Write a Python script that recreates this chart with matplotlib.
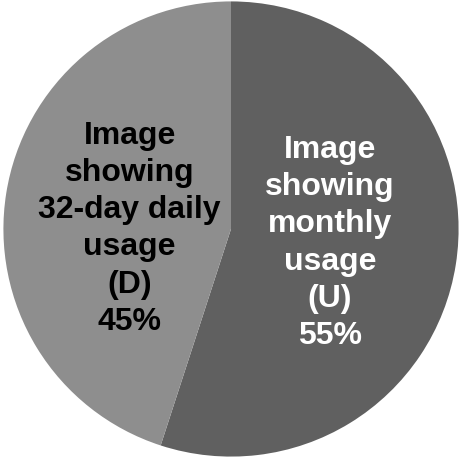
import matplotlib.pyplot as plt

labels = ["Image\nshowing\nmonthly\nusage\n(U)\n55%",
          "Image\nshowing\n32-day daily\nusage\n(D)\n45%"]
shares = [55, 45]
colors = ["#606060", "#8e8e8e"]
text_colors = ["white", "black"]
label_pos = [(0.435, -0.057), (-0.445, 0.005)]

fig = plt.figure(figsize=(4.62, 4.60), dpi=100)
ax = fig.add_axes([0, 0, 1, 1])

wedges, texts = ax.pie(shares, labels=labels, colors=colors, startangle=90,
                       counterclock=False, radius=1.0,
                       wedgeprops={"linewidth": 0})
for t, c, p in zip(texts, text_colors, label_pos):
    t.set_position(p)
    t.set_ha("center")
    t.set_va("center")
    t.set_color(c)
    t.set_fontfamily("Liberation Sans")
    t.set_fontweight("bold")
    t.set_fontsize(23)
    t.set_linespacing(1.31)

ax.set_xlim(-1.015, 1.015)
ax.set_ylim(-1.01, 1.01)
ax.set_aspect("equal")
ax.axis("off")

fig.savefig("out.png", dpi=100, facecolor="white")
